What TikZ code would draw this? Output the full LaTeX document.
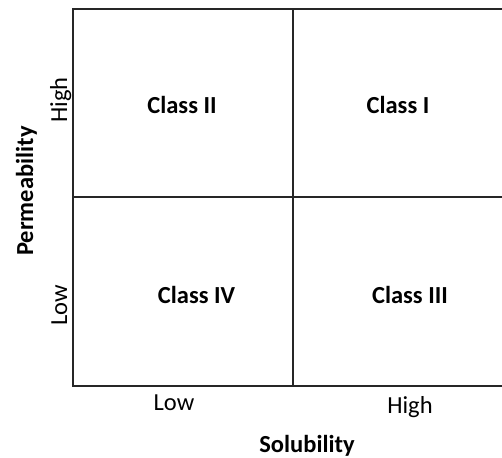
\documentclass[tikz,border=0pt]{standalone}
\usepackage{fontspec}
\setmainfont{Carlito}
\begin{document}
\begin{tikzpicture}[x=1pt,y=-1pt,
  grid/.style={line width=2pt,draw=black!85},
  cls/.style={font=\fontsize{24.5}{28}\selectfont\bfseries,text=black,anchor=base,inner sep=0pt},
  lvl/.style={font=\fontsize{24.5}{28}\selectfont,text=black,anchor=base,inner sep=0pt},
  axl/.style={font=\fontsize{24.5}{28}\selectfont\bfseries,text=black,anchor=base,inner sep=0pt}]
\useasboundingbox (0,0) rectangle (502,457);
\coordinate (tl) at (73,8.7);
\coordinate (tm) at (292.5,8.7);
\coordinate (tr) at (502,8.7);
\coordinate (ml) at (73,196.5);
\coordinate (mr) at (502,196.5);
\coordinate (bl) at (73,385.5);
\coordinate (bm) at (292.5,385.5);
\coordinate (br) at (502,385.5);
\draw[grid] (tr) -- (tl) -- (bl) -- (br);
\draw[grid] (tm) -- (bm);
\draw[grid] (ml) -- (mr);
\node[cls] (c2) at (182,114) {Class II};
\node[cls] (c1) at (398,114) {Class I};
\node[cls] (c4) at (196.5,303) {Class IV};
\node[cls] (c3) at (410,303) {Class III};
\node[lvl,rotate=90] (ph) at (67,100) {High};
\node[lvl,rotate=90] (pl) at (67,305) {Low};
\node[axl,rotate=90] (perm) at (33,191) {Permeability};
\node[lvl] (sl) at (174,410) {Low};
\node[lvl] (sh) at (410,413) {High};
\node[axl] (sol) at (307,452) {Solubility};
\end{tikzpicture}
\end{document}
